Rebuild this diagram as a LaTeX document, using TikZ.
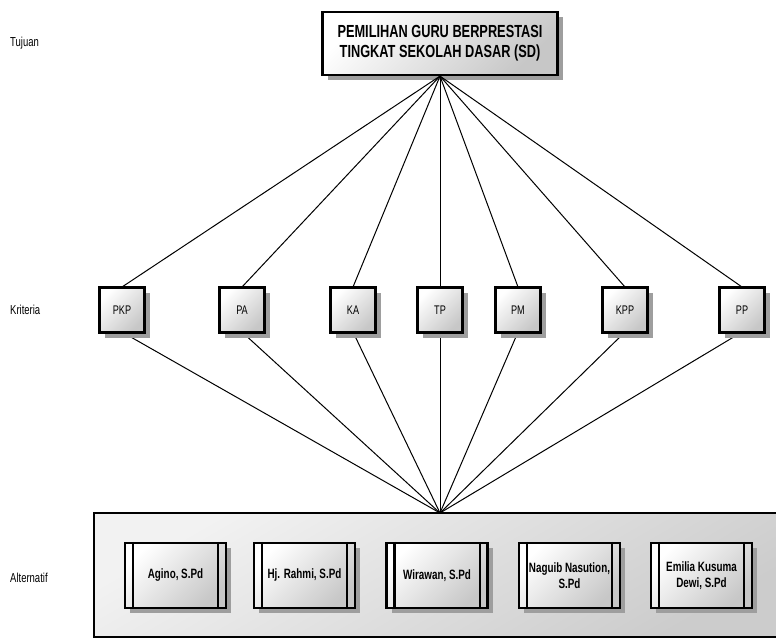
\documentclass[tikz,border=0pt]{standalone}
\usepackage{fontspec}
\setmainfont[FakeStretch=0.73]{Liberation Sans}
\usetikzlibrary{shadows}
\begin{document}
\begin{tikzpicture}[x=1pt,y=-1pt,
  shadowed/.style={drop shadow={shadow xshift=5pt,shadow yshift=-5pt,fill=black!38,opacity=1}},
  boxfill/.style={top color=white,bottom color=black!22,shading angle=45},
  titlebox/.style={draw=black,line width=2.2pt,boxfill,shadowed,minimum width=235pt,minimum height=63pt,inner sep=0pt,align=center,font=\fontsize{17.5}{20}\selectfont\bfseries},
  critbox/.style={draw=black,line width=2.2pt,boxfill,shadowed,minimum width=45pt,minimum height=45pt,inner sep=0pt,font=\fontsize{12.5}{14}\selectfont},
  altbox/.style={draw=black,line width=2.2pt,boxfill,shadowed,minimum width=101pt,minimum height=65pt,inner sep=0pt,align=center,font=\fontsize{13.5}{16}\selectfont\bfseries},
  levellabel/.style={anchor=west,inner sep=0pt,font=\fontsize{13}{15}\selectfont},
  link/.style={line width=1pt,black}]
\useasboundingbox (0,0) rectangle (776,639);
\clip (0,0) rectangle (776,639);
% container
\node[draw=black,line width=2pt,top color=white!95!black,bottom color=black!20,shading angle=30,minimum width=690pt,minimum height=124pt,inner sep=0pt] (cont) at (439,575) {};
% level labels
\node[levellabel] (ltuj) at (10,43) {Tujuan};
\node[levellabel] (lkri) at (10,310) {Kriteria};
\node[levellabel] (lalt) at (10,578) {Alternatif};
% goal
\node[titlebox] (goal) at (440,43.5) {PEMILIHAN GURU BERPRESTASI\\TINGKAT SEKOLAH DASAR (SD)};
\coordinate (conv) at (440,513);
% links
\foreach \n/\x in {pkp/122,pa/242,ka/353,tp/440,pm/518,kpp/625,pp/742}{
  \coordinate (\n-t) at (\x,287);
  \coordinate (\n-b) at (\x,332);
  \draw[link] (goal.south) -- (\n-t);
  \draw[link] (\n-b) -- (conv);
}
% criteria
\node[critbox] (pkp) at (122,310) {PKP};
\node[critbox] (pa) at (242,310) {PA};
\node[critbox] (ka) at (353,310) {KA};
\node[critbox] (tp) at (440,310) {TP};
\node[critbox] (pm) at (518,310) {PM};
\node[critbox] (kpp) at (625,310) {KPP};
\node[critbox] (pp) at (742,310) {PP};
% alternatives
\node[altbox] (a1) at (175.5,575.5) {Agino, S.Pd};
\node[altbox] (a2) at (304.5,575.5) {Hj. Rahmi, S.Pd};
\node[altbox] (a3) at (437,575.5) {Wirawan, S.Pd};
\node[altbox] (a4) at (569.5,575.5) {Naguib Nasution,\\S.Pd};
\node[altbox] (a5) at (701.5,575.5) {Emilia Kusuma\\Dewi, S.Pd};
\foreach \n in {a1,a2,a3,a4,a5}{
  \draw[line width=2.2pt] ([xshift=9pt]\n.north west) -- ([xshift=9pt]\n.south west);
  \draw[line width=2.2pt] ([xshift=-9pt]\n.north east) -- ([xshift=-9pt]\n.south east);
}
\end{tikzpicture}
\end{document}
